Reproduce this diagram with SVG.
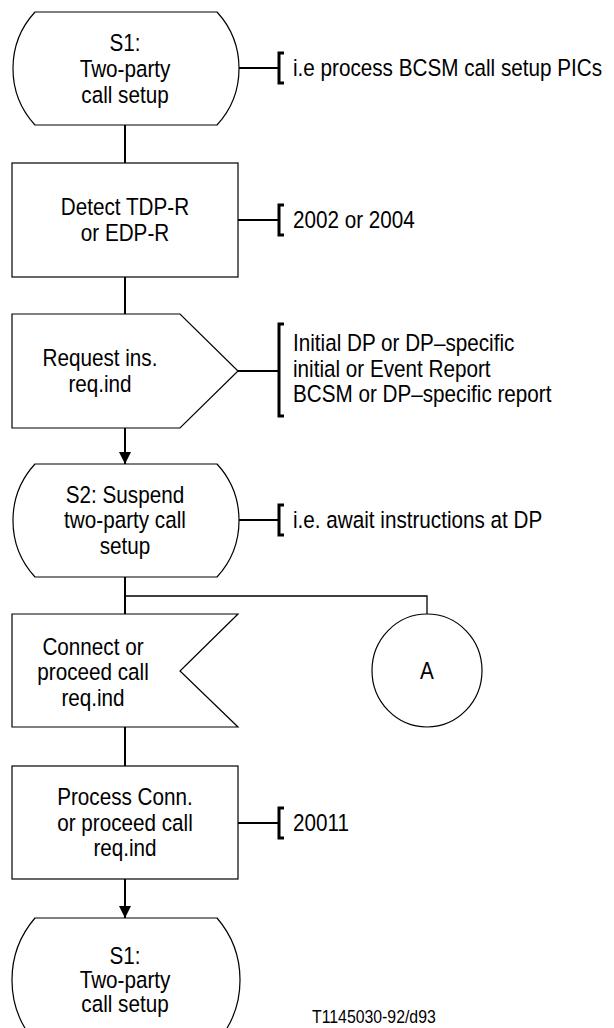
<svg xmlns="http://www.w3.org/2000/svg" width="614" height="1028" viewBox="0 0 614 1028">
<style>
.shape{fill:#fff;stroke:#000;stroke-width:1.2}
.conn{fill:none;stroke:#000;stroke-width:2}
.thin{fill:none;stroke:#000;stroke-width:1.3}
.brk{fill:none;stroke:#000;stroke-width:3}
text{font-family:"Liberation Sans",Arial,Helvetica,sans-serif;font-size:23.5px;fill:#000;transform-box:fill-box;transform:scaleX(0.88)}
.c{text-anchor:middle;transform-origin:center}
.l{transform-origin:left center}
.small{font-size:18px}
</style>
<defs>
<marker id="arr" viewBox="0 0 12 12" refX="12" refY="6" markerWidth="12" markerHeight="12" markerUnits="userSpaceOnUse" orient="auto">
<path d="M0,0 L12,6 L0,12 Z" fill="#000"/>
</marker>
</defs>
<g id="connectors">
<line class="conn" x1="125" y1="125" x2="125" y2="163"/>
<line class="conn" x1="125" y1="277" x2="125" y2="314"/>
<line class="conn" x1="125" y1="428" x2="125" y2="464" marker-end="url(#arr)"/>
<line class="conn" x1="125" y1="577" x2="125" y2="614"/>
<polyline class="thin" points="125,596 427,596 427,614"/>
<line class="conn" x1="125" y1="727" x2="125" y2="766"/>
<line class="conn" x1="125" y1="879" x2="125" y2="918" marker-end="url(#arr)"/>
<line class="conn" x1="239" y1="68" x2="279" y2="68"/>
<line class="conn" x1="238" y1="220" x2="279" y2="220"/>
<line class="conn" x1="238" y1="371" x2="279" y2="371"/>
<line class="conn" x1="239" y1="520" x2="279" y2="520"/>
<line class="conn" x1="238" y1="823" x2="279" y2="823"/>
</g>
<g id="s1-top">
<path class="shape" d="M35,12 H217 A83.5,83.5 0 0 1 217,125 H35 A83.5,83.5 0 0 1 35,12 Z"/>
<text class="c" x="125" y="51">S1:</text>
<text class="c" x="125" y="77">Two-party</text>
<text class="c" x="125" y="103">call setup</text>
</g>
<g id="note-s1">
<path class="brk" d="M284,53 H279 V83 H284"/>
<text class="l" x="293" y="76">i.e process BCSM call setup PICs</text>
</g>
<g id="detect">
<rect class="shape" x="12" y="163" width="226" height="114"/>
<text class="c" x="125" y="215">Detect TDP-R</text>
<text class="c" x="125" y="241">or EDP-R</text>
</g>
<g id="note-detect">
<path class="brk" d="M284,205 H279 V235 H284"/>
<text class="l" x="293" y="228">2002 or 2004</text>
</g>
<g id="request">
<path class="shape" d="M12,314 H180 L238,371 L180,428 H12 Z"/>
<text class="c" x="100" y="366">Request ins.</text>
<text class="c" x="100" y="392">req.ind</text>
</g>
<g id="note-request">
<path class="brk" d="M284,324 H279 V416 H284"/>
<text class="l" x="293" y="351">Initial DP or DP–specific</text>
<text class="l" x="293" y="377">initial or Event Report</text>
<text class="l" x="293" y="402">BCSM or DP–specific report</text>
</g>
<g id="s2">
<path class="shape" d="M35,464 H217 A83.5,83.5 0 0 1 217,577 H35 A83.5,83.5 0 0 1 35,464 Z"/>
<text class="c" x="125" y="503">S2: Suspend</text>
<text class="c" x="125" y="528.5">two-party call</text>
<text class="c" x="125" y="554">setup</text>
</g>
<g id="note-s2">
<path class="brk" d="M284,505 H279 V535 H284"/>
<text class="l" x="293" y="528">i.e. await instructions at DP</text>
</g>
<g id="connect">
<path class="shape" d="M12,614 H238 L180,671 L238,727 H12 Z"/>
<text class="c" x="93" y="655">Connect or</text>
<text class="c" x="93" y="680.5">proceed call</text>
<text class="c" x="93" y="706">req.ind</text>
</g>
<g id="a">
<ellipse class="shape" cx="427" cy="670.5" rx="55" ry="56.5"/>
<text class="c" x="427" y="679">A</text>
</g>
<g id="process">
<rect class="shape" x="12" y="766" width="226" height="113"/>
<text class="c" x="125" y="805.5">Process Conn.</text>
<text class="c" x="125" y="831">or proceed call</text>
<text class="c" x="125" y="856.5">req.ind</text>
</g>
<g id="note-process">
<path class="brk" d="M284,808 H279 V838 H284"/>
<text class="l" x="293" y="831">20011</text>
</g>
<g id="s1-bottom">
<path class="shape" d="M35,918 H217 A95,95 0 0 1 217,1042 H35 A95,95 0 0 1 35,918 Z"/>
<text class="c" x="125" y="964">S1:</text>
<text class="c" x="125" y="988">Two-party</text>
<text class="c" x="125" y="1012">call setup</text>
</g>
<text class="l small" x="312" y="1023">T1145030-92/d93</text>
</svg>
